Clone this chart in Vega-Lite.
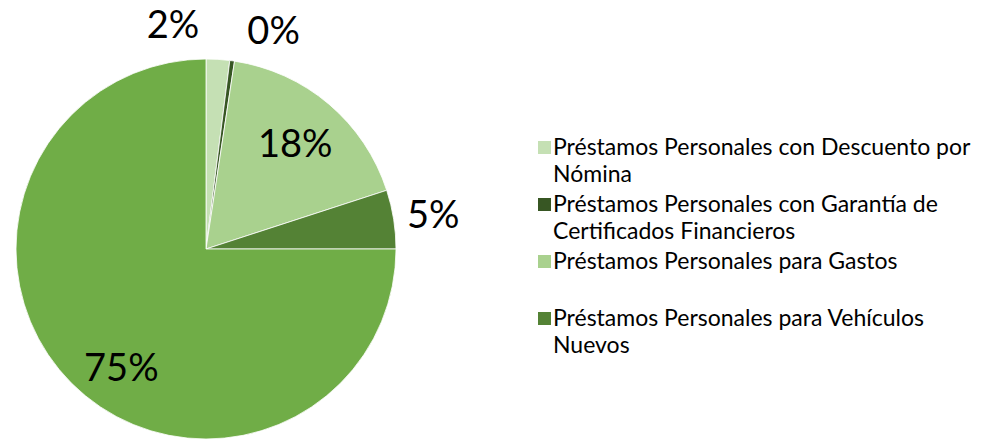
{
  "$schema": "https://vega.github.io/schema/vega-lite/v6.json",
  "width": 412,
  "height": 384,
  "padding": {"top": 4, "left": 0, "right": 0, "bottom": 0},
  "autosize": {"type": "pad"},
  "background": "white",
  "data": {"values": [
    {"cat": "Préstamos Personales con Descuento por Nómina", "value": 0.02},
    {"cat": "Préstamos Personales con Garantía de Certificados Financieros", "value": 0.004},
    {"cat": "Préstamos Personales para Gastos", "value": 0.176},
    {"cat": "Préstamos Personales para Vehículos Nuevos", "value": 0.05},
    {"cat": "Tarjetas de Crédito", "value": 0.75}
  ]},
  "encoding": {
    "theta": {"field": "value", "type": "quantitative", "stack": true},
    "order": {"field": "cat", "sort": "ascending"},
    "detail": {"field": "cat"}
  },
  "layer": [
    {
      "mark": {"type": "arc", "outerRadius": 190, "stroke": "#ffffff", "strokeWidth": 0.8},
      "encoding": {
        "color": {
          "field": "cat", "type": "nominal",
          "scale": {
            "domain": ["Préstamos Personales con Descuento por Nómina", "Préstamos Personales con Garantía de Certificados Financieros", "Préstamos Personales para Gastos", "Préstamos Personales para Vehículos Nuevos", "Tarjetas de Crédito"],
            "range": ["#C5E0B4", "#375623", "#A9D18E", "#548235", "#70AD47"]
          },
          "legend": {
            "title": null,
            "orient": "none",
            "legendX": 533,
            "legendY": 79,
            "padding": 0,
            "values": ["Préstamos Personales con Descuento por Nómina", "Préstamos Personales con Garantía de Certificados Financieros", "Préstamos Personales para Gastos", "Préstamos Personales para Vehículos Nuevos"],
            "symbolType": "square",
            "symbolSize": 169,
            "symbolStrokeWidth": 0,
            "labelFont": "Lato",
            "labelFontSize": 23,
            "labelColor": "#000000",
            "labelLimit": 500,
            "labelOffset": -3,
            "labelBaseline": "middle",
            "rowPadding": 6,
            "labelExpr": "datum.label == 'Préstamos Personales con Descuento por Nómina' ? ['Préstamos Personales con Descuento por', 'Nómina'] : datum.label == 'Préstamos Personales con Garantía de Certificados Financieros' ? ['Préstamos Personales con Garantía de', 'Certificados Financieros'] : datum.label == 'Préstamos Personales para Vehículos Nuevos' ? ['Préstamos Personales para Vehículos', 'Nuevos'] : [datum.label, ' ']"
          }
        }
      }
    },
    {
      "mark": {"type": "text", "radius": 222, "dx": -47, "font": "Lato", "fontSize": 38, "color": "#000000"},
      "encoding": {"text": {"condition": {"test": "datum.value == 0.02", "field": "value", "format": ".0%"}, "value": ""}}
    },
    {
      "mark": {"type": "text", "radius": 222, "dx": 37, "dy": 4, "font": "Lato", "fontSize": 38, "color": "#000000"},
      "encoding": {"text": {"condition": {"test": "datum.value == 0.004", "field": "value", "format": ".0%"}, "value": ""}}
    },
    {
      "mark": {"type": "text", "radius": 138, "dy": 2, "font": "Lato", "fontSize": 38, "color": "#000000"},
      "encoding": {"text": {"condition": {"test": "datum.value == 0.176", "field": "value", "format": ".0%"}, "value": ""}}
    },
    {
      "mark": {"type": "text", "radius": 230, "dy": 4, "font": "Lato", "fontSize": 38, "color": "#000000"},
      "encoding": {"text": {"condition": {"test": "datum.value == 0.05", "field": "value", "format": ".0%"}, "value": ""}}
    },
    {
      "mark": {"type": "text", "radius": 148, "dx": 20, "dy": 16, "font": "Lato", "fontSize": 38, "color": "#000000"},
      "encoding": {"text": {"condition": {"test": "datum.value == 0.75", "field": "value", "format": ".0%"}, "value": ""}}
    }
  ],
  "config": {
    "view": {"stroke": null},
    "style": {"guide-label": {"lineHeight": 27}}
  }
}
